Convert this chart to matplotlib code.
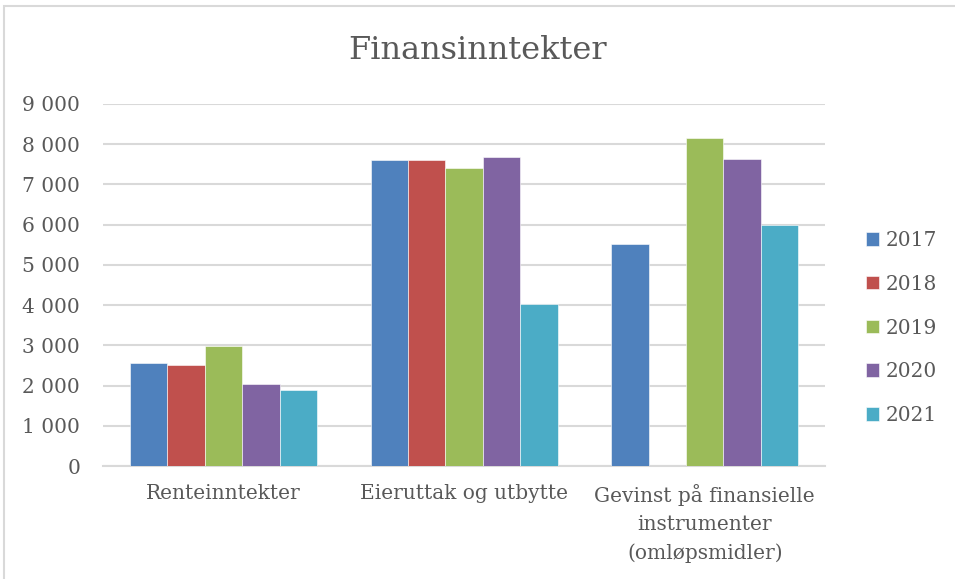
import numpy as np
import matplotlib
matplotlib.use("Agg")
import matplotlib.pyplot as plt
from matplotlib.ticker import FuncFormatter
from matplotlib.patches import Rectangle

# data
categories = ["Renteinntekter", "Eieruttak og utbytte",
              "Gevinst på finansielle\ninstrumenter\n(omløpsmidler)"]
years = ["2017", "2018", "2019", "2020", "2021"]
v2017 = [2550, 7600, 5530]
v2018 = [2500, 7600, 0]
v2019 = [2990, 7420, 8150]
v2020 = [2040, 7680, 7640]
v2021 = [1890, 4030, 5990]
colors = ["#4F81BD", "#C0504D", "#9BBB59", "#8064A2", "#4BACC6"]

plt.rcParams['font.family'] = ['DejaVu Serif']
txt = "#595959"
fs = 14.5

fig = plt.figure(figsize=(9.55, 5.79), dpi=100)
ax = fig.add_axes([0.108, 0.195, 0.756, 0.6255])

series = [v2017, v2018, v2019, v2020, v2021]
x = np.arange(len(categories))
group = 0.777
w = group / len(series)
for i, (vals, yr) in enumerate(zip(series, years)):
    ax.bar(x - group / 2 + w * (i + 0.5), vals, width=w, color=colors[i],
           edgecolor="white", linewidth=0.4, label=yr, zorder=3)

ax.set_xlim(-0.5, 2.5)
ax.set_ylim(0, 9000)
ax.set_yticks(np.arange(0, 9001, 1000))
ax.yaxis.set_major_formatter(FuncFormatter(lambda v, p: f"{int(v):,}".replace(",", " ")))
ax.set_xticks(x)
ax.set_xticklabels(categories, linespacing=1.6)
ax.tick_params(axis="both", length=0, colors=txt, labelsize=fs)
ax.tick_params(axis="y", pad=16.5)
ax.tick_params(axis="x", pad=13)
ax.grid(axis="y", color="#D9D9D9", linewidth=1.5, zorder=0)
for s in ["top", "right", "left"]:
    ax.spines[s].set_visible(False)
ax.spines["bottom"].set_color("#D9D9D9")
ax.spines["bottom"].set_linewidth(1.5)

fig.text(0.5, 0.913, "Finansinntekter", ha="center", va="center",
         fontsize=23, color=txt)

leg = fig.legend(loc="center left", bbox_to_anchor=(0.898, 0.4335), frameon=False,
                 fontsize=fs, handlelength=0.65, handleheight=0.65,
                 handletextpad=0.35, labelspacing=1.23, borderaxespad=0)
for t in leg.get_texts():
    t.set_color(txt)

fig.patches.append(Rectangle((4 / 955, -0.05), 1.1, 1.05 - 6 / 579,
                             transform=fig.transFigure, fill=False,
                             edgecolor="#D9D9D9", linewidth=1.5))

fig.savefig("out.png", dpi=100)
